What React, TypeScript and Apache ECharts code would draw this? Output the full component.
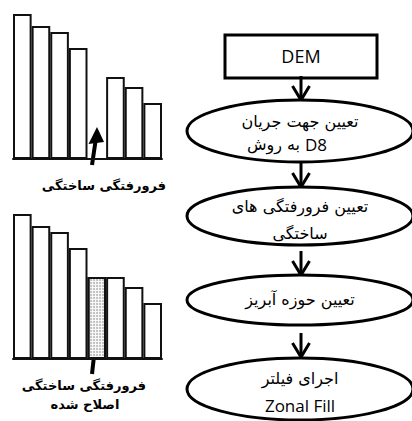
import React, { useEffect, useRef } from "react";
import * as echarts from "echarts";

const slots = ["1", "2", "3", "4", "5", "6", "7", "8"];
const originalHeights: (number | null)[] = [145, 133, 127, 111, null, 82, 72, 56];
const correctedHeights: number[] = [145, 133, 127, 111, 82, 82, 72, 56];
const filledIndex = 4;

const labelTop = "فرورفتگی ساختگی";
const labelBottom1 = "فرورفتگی ساختگی";
const labelBottom2 = "اصلاح شده";

const stepDem = "DEM";
const step1 = ["تعیین جهت جریان", "به روش", "D8"];
const step2 = ["تعیین فرورفتگی های", "ساختگی"];
const step3 = ["تعیین حوزه آبریز"];
const step4 = ["اجرای فیلتر", "Zonal Fill"];

const FA = "'DejaVu Sans', sans-serif";
const EN = "'Open Sans', sans-serif";

function chevron(x: number, y: number) {
  return [
    { type: "line", shape: { x1: x, y1: y - 24, x2: x, y2: y - 1 }, style: { stroke: "#000", lineWidth: 3 } },
    { type: "polyline", shape: { points: [[x - 8.5, y - 14], [x, y], [x + 8.5, y - 14]] }, style: { stroke: "#000", lineWidth: 3, fill: null } },
  ];
}

function ellipse(cy: number, ry: number) {
  return { type: "ellipse", shape: { cx: 300, cy, rx: 113, ry }, style: { fill: "#fff", stroke: "#000", lineWidth: 3 } };
}

function txt(text: string, x: number, y: number, font: string, size: number, weight = "normal", align = "center") {
  return {
    type: "text",
    style: { text, x, y, fill: "#000", font: `${weight} ${size}px ${font}`, align, verticalAlign: "middle" },
  };
}

export default function App() {
  const ref = useRef<HTMLDivElement>(null);
  useEffect(() => {
    const chart = echarts.init(ref.current!, null, { renderer: "svg" });
    const barStyle = { color: "#fff", borderColor: "#111", borderWidth: 2 };
    const xAxisCommon = {
      type: "category",
      data: slots,
      axisLine: { show: true, lineStyle: { color: "#111", width: 2 } },
      axisTick: { show: false },
      axisLabel: { show: false },
    };
    const yAxisCommon = { type: "value", min: 0, max: 150, show: false, splitLine: { show: false } };
    chart.setOption({
      animation: false,
      backgroundColor: "#fff",
      grid: [
        { left: 13, right: 250, top: 9, bottom: 262 },
        { left: 13, right: 250, top: 209, bottom: 62 },
      ],
      xAxis: [
        { ...xAxisCommon, gridIndex: 0 },
        { ...xAxisCommon, gridIndex: 1 },
      ],
      yAxis: [
        { ...yAxisCommon, gridIndex: 0 },
        { ...yAxisCommon, gridIndex: 1 },
      ],
      series: [
        {
          type: "bar",
          xAxisIndex: 0,
          yAxisIndex: 0,
          data: originalHeights,
          barCategoryGap: "0%",
          itemStyle: barStyle,
          silent: true,
        },
        {
          type: "bar",
          xAxisIndex: 1,
          yAxisIndex: 1,
          barCategoryGap: "0%",
          data: correctedHeights.map((v, i) =>
            i === filledIndex
              ? {
                  value: v,
                  itemStyle: {
                    color: "#f7f7f7",
                    borderColor: "#111",
                    borderWidth: 2,
                    decal: { symbol: "circle", symbolSize: 0.8, dashArrayX: [2, 1], dashArrayY: [2, 1], color: "#a8a8a8" },
                  },
                }
              : v
          ),
          itemStyle: barStyle,
          silent: true,
        },
      ],
      graphic: [
        // left annotations
        { type: "line", shape: { x1: 92, y1: 165, x2: 96, y2: 138 }, style: { stroke: "#000", lineWidth: 4 } },
        { type: "polygon", shape: { points: [[97, 127], [88.5, 144], [104, 142]] }, style: { fill: "#000" } },
        txt(labelTop, 104, 185, FA, 13, "bold"),
        { type: "line", shape: { x1: 92, y1: 374, x2: 96, y2: 338 }, style: { stroke: "#000", lineWidth: 4 } },
        { type: "polygon", shape: { points: [[97.5, 328], [88.5, 344], [104, 342]] }, style: { fill: "#000" } },
        txt(labelBottom1, 84, 385, FA, 13, "bold"),
        txt(labelBottom2, 85, 404, FA, 13, "bold"),
        // flowchart
        { type: "rect", shape: { x: 225, y: 35, width: 152, height: 43 }, style: { fill: "#fff", stroke: "#000", lineWidth: 3 } },
        txt(stepDem, 301, 56, EN, 18),
        ...chevron(301, 100),
        ellipse(131, 31),
        txt(step1[0], 300, 121, FA, 16),
        txt(step1[1], 300, 144, FA, 16, "normal", "right"),
        txt(step1[2], 305, 144, EN, 17, "normal", "left"),
        ...chevron(301, 187),
        ellipse(216, 29),
        txt(step2[0], 300, 206, FA, 16),
        txt(step2[1], 300, 233, FA, 16),
        ...chevron(301, 275),
        ellipse(300, 25),
        txt(step3[0], 300, 299, FA, 16),
        ...chevron(301, 357),
        ellipse(389, 31),
        txt(step4[0], 300, 378, FA, 16),
        txt(step4[1], 300, 405, EN, 17),
      ],
    });
    return () => chart.dispose();
  }, []);
  return <div ref={ref} style={{ position: "fixed", left: 0, top: 0, width: 412, height: 421 }} />;
}
